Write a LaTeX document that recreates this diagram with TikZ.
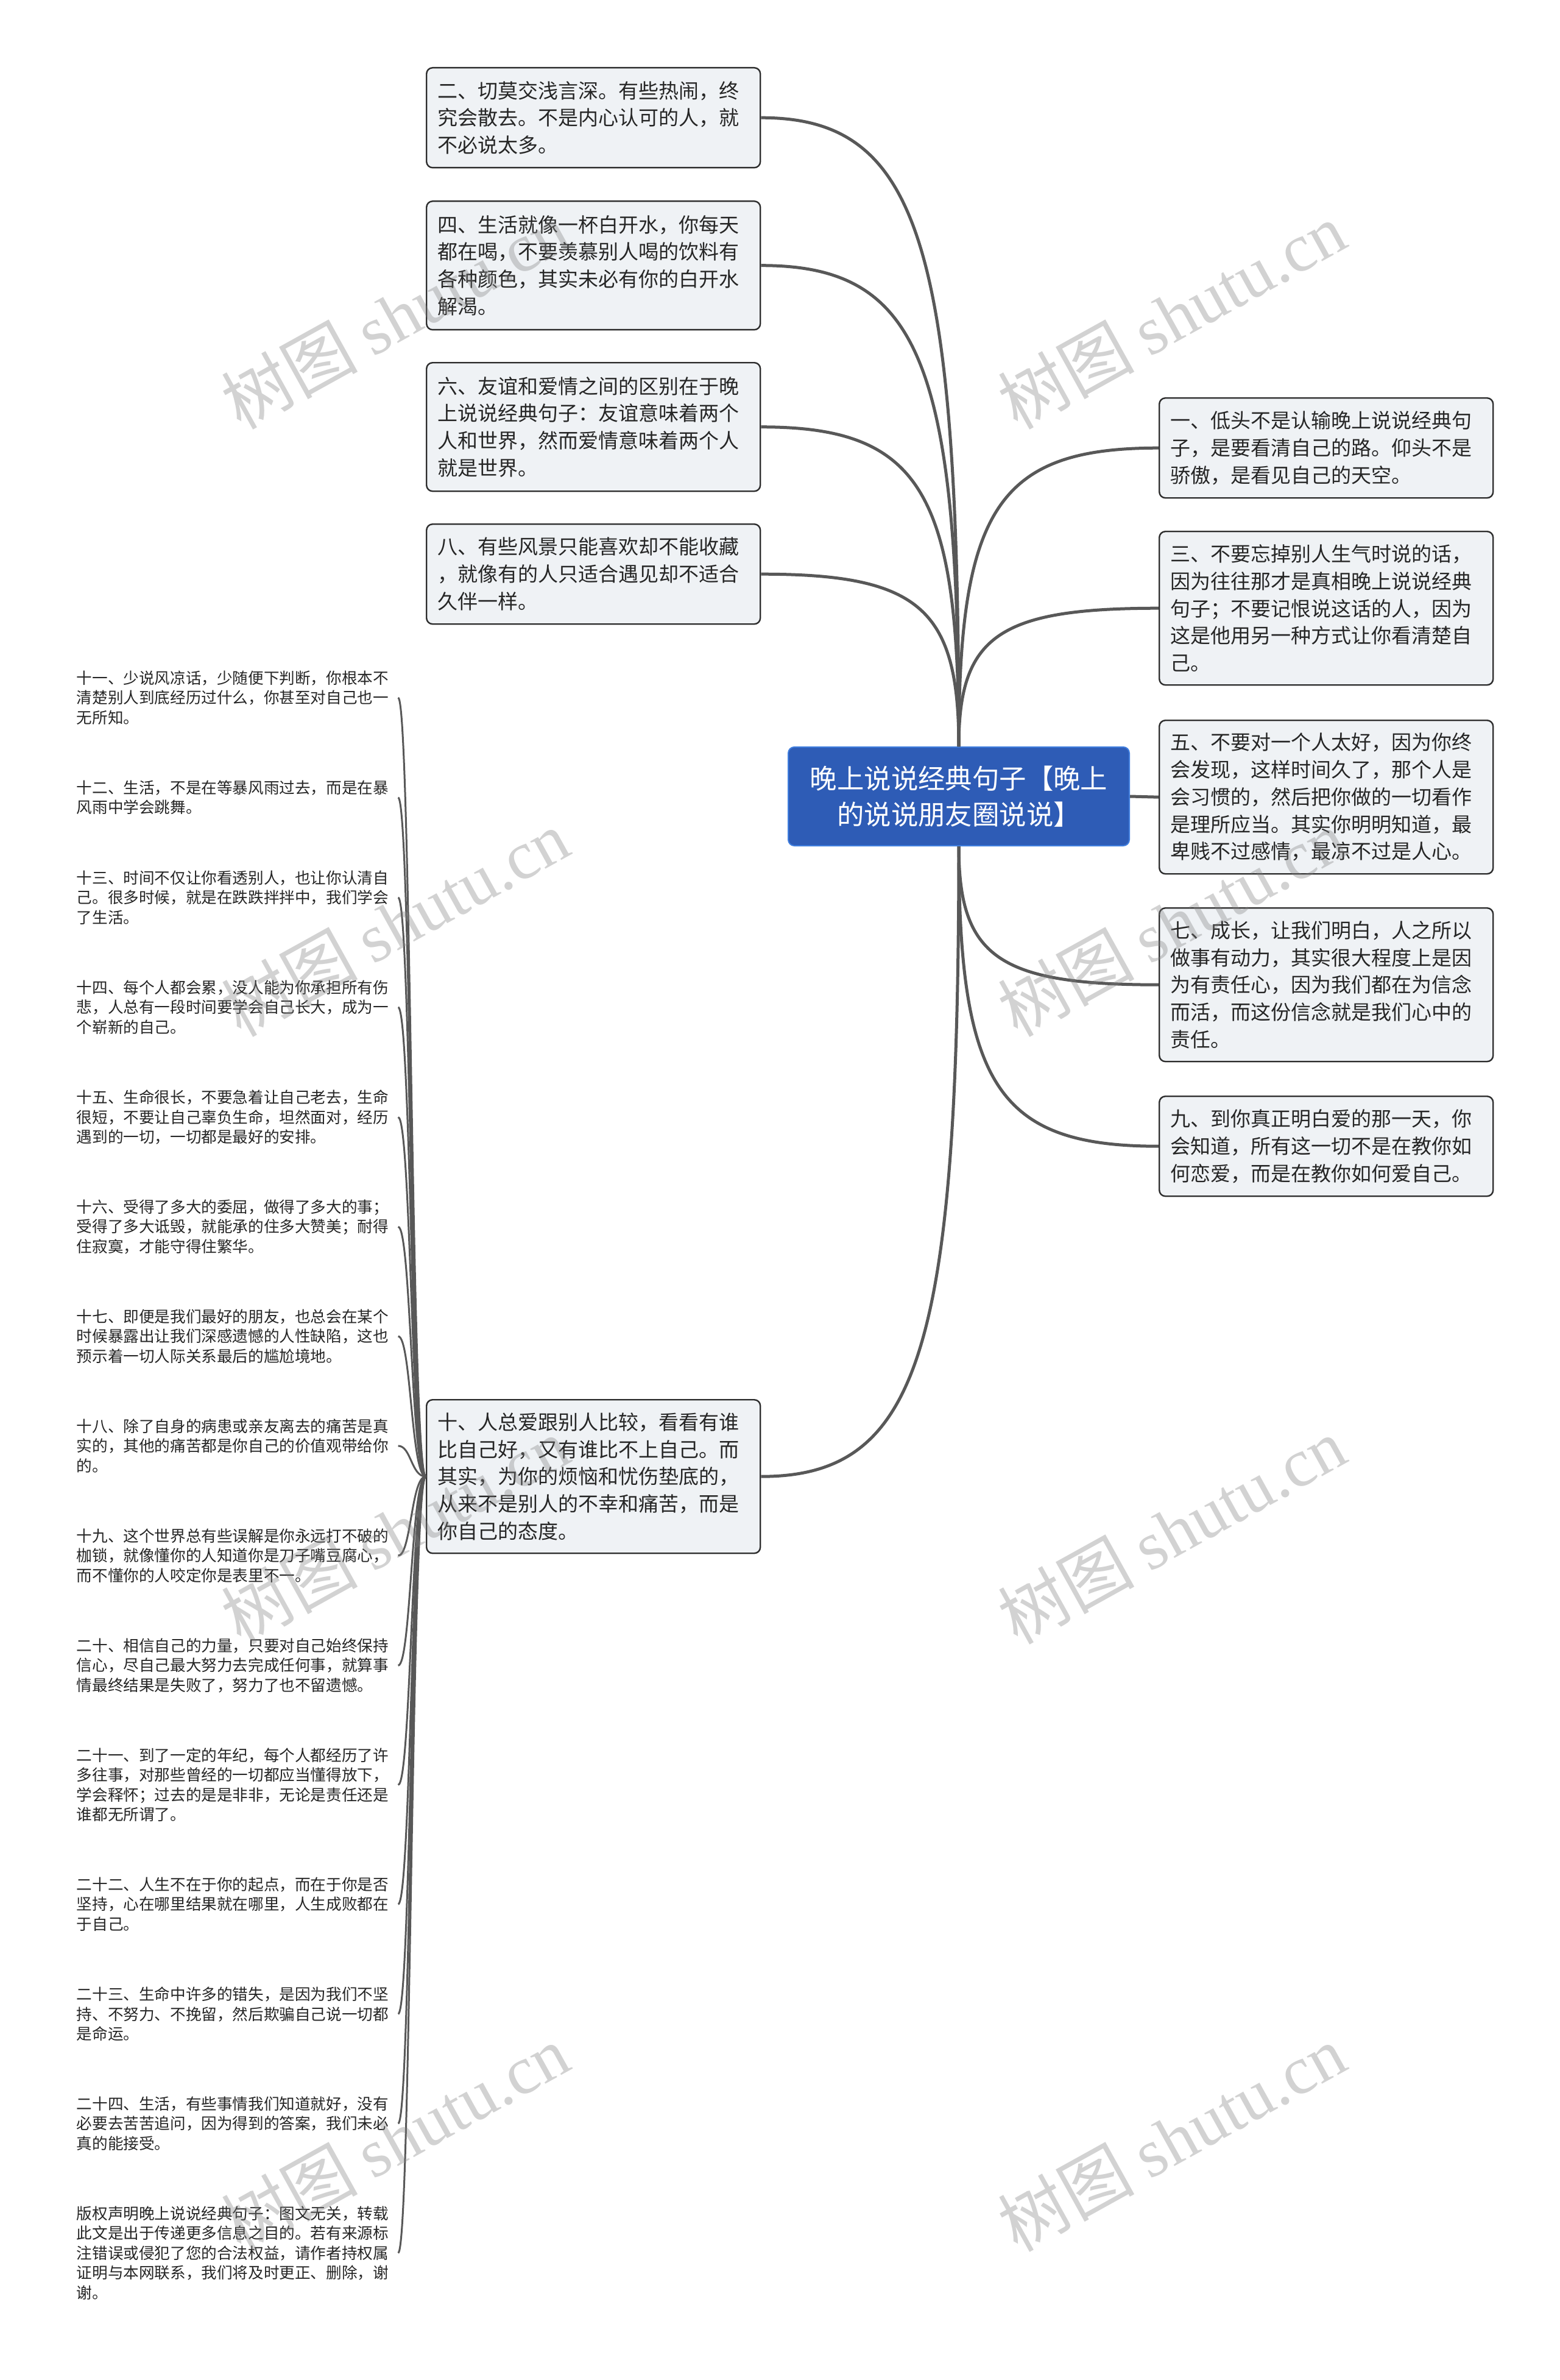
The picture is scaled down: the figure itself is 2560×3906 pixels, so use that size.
\documentclass[tikz,border=0pt]{standalone}
\usepackage{fontspec}
\setmainfont{Noto Sans CJK SC}
\newfontfamily\wmlatin{Liberation Serif}
\usetikzlibrary{calc}
\definecolor{linec}{RGB}{88,88,88}
\definecolor{boxline}{RGB}{45,45,45}
\definecolor{boxfill}{RGB}{239,242,245}
\definecolor{txt}{RGB}{38,38,38}
\definecolor{rootfill}{RGB}{46,92,182}
\definecolor{rootline}{RGB}{64,126,222}
\newcommand\myboxfont{\fontsize{8.25pt}{11.2pt}\selectfont}
\newcommand\myitemfont{\fontsize{6.4pt}{8.1pt}\selectfont}
\newcommand\myrootfont{\fontsize{11.1pt}{14.8pt}\selectfont}
\newcommand\mywmfont{\fontsize{28pt}{30pt}\selectfont}
\tikzset{
  textbox/.style={draw=boxline, fill=boxfill, rounded corners=2.5pt, line width=0.6pt,
    text width=128pt, inner xsep=4.5pt, inner ysep=0pt, align=left, anchor=north west,
    font=\myboxfont, text=txt},
  hthree/.style={minimum height=41pt},
  hfour/.style={minimum height=52.75pt},
  hfive/.style={minimum height=63pt},
  itemtext/.style={text width=130pt, inner xsep=1.75pt, inner ysep=0pt, align=left,
    anchor=north west, font=\myitemfont, text=txt},
  rootnode/.style={draw=rootline, fill=rootfill, rounded corners=2.5pt, line width=0.5pt,
    minimum width=140pt, minimum height=40.5pt, align=center, font=\myrootfont, text=white},
  conn/.style={draw=linec, line width=1.25pt},
  sconn/.style={draw=linec, line width=0.75pt},
  wm/.style={text=black!50, opacity=0.35, font=\mywmfont, inner sep=0pt}
}
\newcommand\mconn[2]{\draw[conn] (#1) .. controls ($(#1)!0.8!(#1|-#2)$) and ($(#2)!0.8!(#1|-#2)$) .. (#2);}
\newcommand\iconn[1]{\draw[sconn] (b10.west) .. controls (mx |- b10.west) and (mx |- #1.east) .. (#1.east);}
\begin{document}
\begin{tikzpicture}[x=0.25pt,y=-0.25pt]
\useasboundingbox (0,0) rectangle (2560,3906);
\fill[white] (0,0) rectangle (2560,3906);

% root
\node[rootnode] (c) at (1574,1307) {晚上说说经典句子【晚上\\的说说朋友圈说说】};

% left upper boxes
\node[textbox,hthree] (b2) at (699,110) {二、切莫交浅言深。有些热闹，终\\究会散去。不是内心认可的人，就\\不必说太多。};
\node[textbox,hfour] (b4) at (699,329) {四、生活就像一杯白开水，你每天\\都在喝，不要羡慕别人喝的饮料有\\各种颜色，其实未必有你的白开水\\解渴。};
\node[textbox,hfour] (b6) at (699,594) {六、友谊和爱情之间的区别在于晚\\上说说经典句子：友谊意味着两个\\人和世界，然而爱情意味着两个人\\就是世界。};
\node[textbox,hthree] (b8) at (699,859) {八、有些风景只能喜欢却不能收藏\\，就像有的人只适合遇见却不适合\\久伴一样。};

% right boxes
\node[textbox,hthree] (b1) at (1902,652) {一、低头不是认输晚上说说经典句\\子，是要看清自己的路。仰头不是\\骄傲，是看见自己的天空。};
\node[textbox,hfive] (b3) at (1902,871) {三、不要忘掉别人生气时说的话，\\因为往往那才是真相晚上说说经典\\句子；不要记恨说这话的人，因为\\这是他用另一种方式让你看清楚自\\己。};
\node[textbox,hfive] (b5) at (1902,1181) {五、不要对一个人太好，因为你终\\会发现，这样时间久了，那个人是\\会习惯的，然后把你做的一切看作\\是理所应当。其实你明明知道，最\\卑贱不过感情，最凉不过是人心。};
\node[textbox,hfive] (b7) at (1902,1489) {七、成长，让我们明白，人之所以\\做事有动力，其实很大程度上是因\\为有责任心，因为我们都在为信念\\而活，而这份信念就是我们心中的\\责任。};
\node[textbox,hthree] (b9) at (1902,1798) {九、到你真正明白爱的那一天，你\\会知道，所有这一切不是在教你如\\何恋爱，而是在教你如何爱自己。};

% box ten
\node[textbox,hfive] (b10) at (699,2296) {十、人总爱跟别人比较，看看有谁\\比自己好，又有谁比不上自己。而\\其实，为你的烦恼和忧伤垫底的，\\从来不是别人的不幸和痛苦，而是\\你自己的态度。};

% small items
\node[itemtext] (i11) at (118,1100) {十一、少说风凉话，少随便下判断，你根本不\\清楚别人到底经历过什么，你甚至对自己也一\\无所知。};
\node[itemtext] (i12) at (118,1280) {十二、生活，不是在等暴风雨过去，而是在暴\\风雨中学会跳舞。};
\node[itemtext] (i13) at (118,1428) {十三、时间不仅让你看透别人，也让你认清自\\己。很多时候，就是在跌跌拌拌中，我们学会\\了生活。};
\node[itemtext] (i14) at (118,1608) {十四、每个人都会累，没人能为你承担所有伤\\悲，人总有一段时间要学会自己长大，成为一\\个崭新的自己。};
\node[itemtext] (i15) at (118,1788) {十五、生命很长，不要急着让自己老去，生命\\很短，不要让自己辜负生命，坦然面对，经历\\遇到的一切，一切都是最好的安排。};
\node[itemtext] (i16) at (118,1968) {十六、受得了多大的委屈，做得了多大的事；\\受得了多大诋毁，就能承的住多大赞美；耐得\\住寂寞，才能守得住繁华。};
\node[itemtext] (i17) at (118,2148) {十七、即便是我们最好的朋友，也总会在某个\\时候暴露出让我们深感遗憾的人性缺陷，这也\\预示着一切人际关系最后的尴尬境地。};
\node[itemtext] (i18) at (118,2328) {十八、除了自身的病患或亲友离去的痛苦是真\\实的，其他的痛苦都是你自己的价值观带给你\\的。};
\node[itemtext] (i19) at (118,2508) {十九、这个世界总有些误解是你永远打不破的\\枷锁，就像懂你的人知道你是刀子嘴豆腐心，\\而不懂你的人咬定你是表里不一。};
\node[itemtext] (i20) at (118,2688) {二十、相信自己的力量，只要对自己始终保持\\信心，尽自己最大努力去完成任何事，就算事\\情最终结果是失败了，努力了也不留遗憾。};
\node[itemtext] (i21) at (118,2868) {二十一、到了一定的年纪，每个人都经历了许\\多往事，对那些曾经的一切都应当懂得放下，\\学会释怀；过去的是是非非，无论是责任还是\\谁都无所谓了。};
\node[itemtext] (i22) at (118,3080) {二十二、人生不在于你的起点，而在于你是否\\坚持，心在哪里结果就在哪里，人生成败都在\\于自己。};
\node[itemtext] (i23) at (118,3260) {二十三、生命中许多的错失，是因为我们不坚\\持、不努力、不挽留，然后欺骗自己说一切都\\是命运。};
\node[itemtext] (i24) at (118,3440) {二十四、生活，有些事情我们知道就好，没有\\必要去苦苦追问，因为得到的答案，我们未必\\真的能接受。};
\node[itemtext] (icp) at (118,3620) {版权声明晚上说说经典句子：图文无关，转载\\此文是出于传递更多信息之目的。若有来源标\\注错误或侵犯了您的合法权益，请作者持权属\\证明与本网联系，我们将及时更正、删除，谢\\谢。};

% main connectors
\mconn{c.north}{b2.east}
\mconn{c.north}{b4.east}
\mconn{c.north}{b6.east}
\mconn{c.north}{b8.east}
\mconn{c.north}{b1.west}
\mconn{c.north}{b3.west}
\draw[conn] (c.east) -- (b5.west);
\mconn{c.south}{b7.west}
\mconn{c.south}{b9.west}
\mconn{c.south}{b10.east}

% item connectors
\coordinate (mx) at (675,0);
\iconn{i11}\iconn{i12}\iconn{i13}\iconn{i14}\iconn{i15}
\iconn{i16}\iconn{i17}\iconn{i18}\iconn{i19}\iconn{i20}
\iconn{i21}\iconn{i22}\iconn{i23}\iconn{i24}\iconn{icp}

% watermarks
\foreach \wx in {648,1923}{
  \foreach \wy in {518,1515,2512,3509}{
    \node[wm,rotate=29] at (\wx,\wy) {树图 {\wmlatin shutu.cn}};
  }
}
\end{tikzpicture}
\end{document}
